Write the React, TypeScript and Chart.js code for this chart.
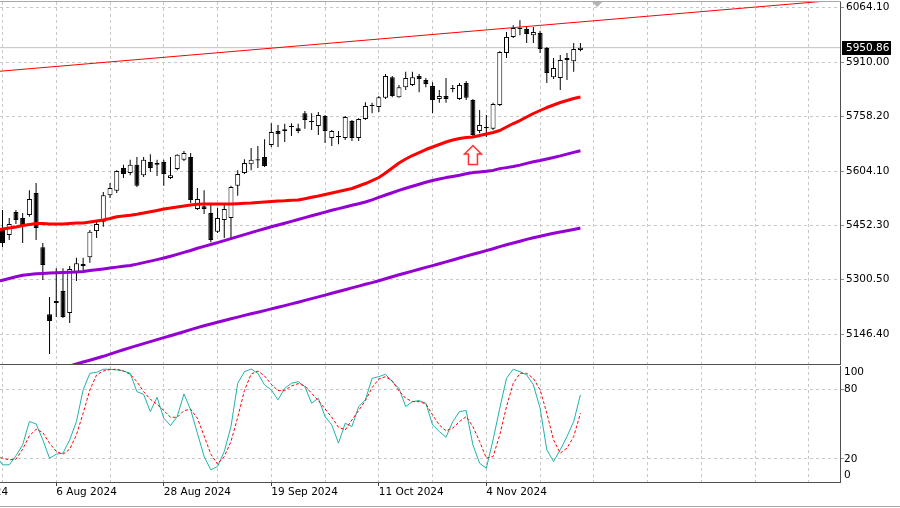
import React, { useEffect, useRef } from 'react';
import { Chart, registerables } from 'chart.js';

Chart.register(...registerables);

// ---- categories (trading days, bar index 0..86) ----
const dates = [
  '2024-07-25','2024-07-26','2024-07-29','2024-07-30','2024-07-31','2024-08-01','2024-08-02','2024-08-05',
  '2024-08-06','2024-08-07','2024-08-08','2024-08-09','2024-08-12','2024-08-13','2024-08-14','2024-08-15',
  '2024-08-16','2024-08-19','2024-08-20','2024-08-21','2024-08-22','2024-08-23','2024-08-26','2024-08-27',
  '2024-08-28','2024-08-29','2024-08-30','2024-09-02','2024-09-03','2024-09-04','2024-09-05','2024-09-06',
  '2024-09-09','2024-09-10','2024-09-11','2024-09-12','2024-09-13','2024-09-16','2024-09-17','2024-09-18',
  '2024-09-19','2024-09-20','2024-09-23','2024-09-24','2024-09-25','2024-09-26','2024-09-27','2024-09-30',
  '2024-10-01','2024-10-02','2024-10-03','2024-10-04','2024-10-07','2024-10-08','2024-10-09','2024-10-10',
  '2024-10-11','2024-10-14','2024-10-15','2024-10-16','2024-10-17','2024-10-18','2024-10-21','2024-10-22',
  '2024-10-23','2024-10-24','2024-10-25','2024-10-28','2024-10-29','2024-10-30','2024-10-31','2024-11-01',
  '2024-11-04','2024-11-05','2024-11-06','2024-11-07','2024-11-08','2024-11-11','2024-11-12','2024-11-13',
  '2024-11-14','2024-11-15','2024-11-18','2024-11-19','2024-11-20','2024-11-21','2024-11-22'
];

// ---- OHLC ----
const open = [5439,5425,5490,5473,5481,5543,5391,5203,5234,5268,5206,5321,5344,5363,5436,5462,5537,5549,5613,5599,5622,5593,5630,5622,5630,5585,5610,5636,5644,5498,5506,5487,5434,5467,5473,5563,5599,5624,5638,5644,5678,5717,5717,5728,5725,5767,5745,5731,5759,5697,5700,5697,5745,5697,5751,5787,5784,5810,5868,5812,5840,5846,5871,5860,5843,5807,5815,5835,5807,5852,5804,5717,5725,5723,5790,5936,5981,6003,6003,5986,5992,5950,5868,5866,5922,5913,5944];
const high = [5495,5473,5495,5487,5551,5571,5403,5251,5332,5332,5338,5361,5361,5439,5467,5546,5571,5607,5622,5636,5644,5644,5652,5636,5636,5644,5652,5661,5655,5557,5551,5515,5501,5509,5563,5607,5638,5669,5675,5694,5739,5734,5737,5739,5737,5773,5767,5770,5762,5720,5717,5759,5748,5753,5798,5796,5815,5877,5871,5846,5883,5883,5877,5866,5854,5832,5866,5846,5852,5857,5807,5776,5762,5796,5941,5995,6014,6028,6009,6009,5998,5953,5922,5930,5936,5964,5964];
const low = [5391,5411,5456,5403,5476,5411,5299,5091,5195,5192,5178,5296,5327,5347,5417,5448,5529,5543,5585,5593,5560,5588,5602,5591,5563,5582,5607,5633,5515,5495,5484,5405,5431,5417,5417,5535,5596,5607,5613,5616,5672,5672,5686,5703,5711,5723,5720,5706,5683,5675,5680,5692,5689,5689,5748,5767,5770,5807,5812,5810,5832,5843,5826,5840,5767,5796,5796,5826,5804,5804,5703,5711,5700,5720,5787,5922,5978,5986,5964,5964,5936,5852,5863,5832,5860,5883,5941];
const close = [5403,5456,5467,5453,5526,5445,5341,5184,5240,5195,5330,5346,5338,5434,5456,5537,5557,5605,5596,5622,5563,5636,5613,5627,5596,5593,5650,5655,5523,5526,5498,5411,5473,5498,5560,5596,5627,5636,5634,5619,5714,5708,5722,5731,5717,5748,5742,5762,5717,5717,5703,5756,5697,5751,5787,5790,5812,5871,5815,5840,5866,5868,5863,5849,5804,5815,5807,5838,5846,5810,5706,5734,5728,5793,5939,5981,6006,6006,5989,5995,5947,5880,5894,5916,5916,5947,5950.86];

// ---- moving averages (red starts at bar -1, upper purple at -1, lower purple at 10) ----
const maRedStart = -1;
const maRed = [5439.1,5441.9,5444.7,5447.5,5451.8,5454.6,5457.4,5457.4,5456.0,5456.0,5456.0,5457.4,5458.8,5458.8,5461.6,5464.4,5467.2,5471.4,5476.5,5478.4,5480.4,5483.2,5486.8,5490.5,5493.9,5498.1,5500.9,5503.7,5506.5,5509.3,5511.3,5512.1,5512.1,5512.1,5512.1,5512.1,5513.0,5514.1,5514.9,5516.3,5517.7,5519.1,5520.5,5521.1,5522.5,5523.3,5527.0,5530.9,5534.5,5538.8,5543.0,5547.2,5551.4,5555.6,5562.6,5569.6,5578.0,5586.5,5599.1,5613.1,5627.2,5638.4,5648.2,5656.6,5665.0,5672.1,5679.1,5686.1,5691.7,5695.9,5698.7,5700.1,5704.4,5708.6,5712.8,5718.4,5728.2,5738.0,5746.4,5756.2,5766.1,5774.5,5782.9,5789.9,5797.0,5802.6,5808.2,5812.4];
const maUpperStart = -1;
const maUpper = [5294.6,5298.0,5303.0,5307.8,5312.0,5314.5,5316.2,5317.3,5318.2,5319.0,5319.6,5320.4,5321.5,5322.7,5325.2,5327.7,5330.0,5332.5,5335.0,5337.3,5339.8,5343.4,5347.6,5351.9,5356.1,5360.5,5365.3,5370.7,5376.3,5381.6,5387.8,5393.1,5398.4,5403.8,5409.4,5415.0,5420.6,5426.2,5431.8,5437.4,5442.8,5448.1,5453.2,5458.2,5463.3,5468.6,5473.9,5479.0,5484.0,5489.3,5494.4,5499.2,5503.7,5508.4,5512.9,5517.7,5523.9,5530.6,5537.4,5543.8,5550.5,5556.2,5561.8,5567.4,5573.0,5578.0,5582.3,5586.2,5589.5,5592.9,5597.1,5600.2,5601.9,5603.9,5606.4,5611.4,5614.2,5617.3,5621.3,5626.0,5630.8,5634.2,5638.4,5642.6,5647.1,5652.1,5656.9,5661.7];
const maLowerStart = 10;
const maLower = [5057.4,5063.1,5068.7,5073.7,5079.1,5084.7,5090.9,5097.0,5103.2,5109.1,5114.7,5120.3,5125.9,5131.5,5137.2,5142.5,5148.1,5153.7,5159.6,5165.2,5170.6,5175.3,5180.1,5185.1,5189.9,5194.7,5199.5,5204.0,5208.5,5213.0,5217.7,5222.5,5227.0,5231.8,5236.5,5241.6,5246.6,5251.4,5256.5,5261.5,5266.6,5271.6,5276.7,5281.7,5286.8,5291.5,5296.9,5302.5,5308.1,5313.4,5318.5,5323.8,5328.8,5334.2,5339.2,5344.3,5349.6,5354.9,5360.5,5365.9,5370.9,5376.0,5381.3,5386.6,5392.5,5397.6,5402.7,5407.7,5412.8,5417.3,5421.4,5425.9,5430.2,5433.8,5437.2,5440.8,5444.7];

// ---- trend line, current price, marker ----
const trendIdx = [-1, 125];
const trendPrice = [5883.7, 6085.6];
const currentPrice = 5950.86;
const arrowIdx = 70;
const arrowPrice = 5649.6;
const shiftMarkerIdx = 88.5;

// ---- stochastic (start at bar -1) ----
const stochStart = -1;
const stochK = [23.4,14.8,14.8,22.6,32.0,52.1,50.1,36.3,20.5,24.0,24.9,36.3,52.1,79.4,93.7,94.6,97.2,97.2,96.6,95.7,93.7,77.9,75.6,60.7,73.1,55.0,48.7,56.4,75.9,62.2,42.1,22.0,10.5,13.4,26.3,47.8,85.1,95.1,97.4,93.7,83.7,79.4,70.8,80.8,85.1,86.5,82.2,67.9,72.2,56.4,49.2,33.5,50.7,47.8,65.0,70.8,89.4,90.8,92.9,86.5,80.8,65.0,69.3,70.2,67.9,49.2,43.5,38.6,52.1,60.7,61.6,32.0,16.2,11.9,36.3,63.6,89.4,97.2,95.1,92.3,83.7,63.6,27.7,17.7,27.7,39.2,52.1,75.1];
const stochD = [22.6,20.5,19.1,19.7,28.3,39.8,45.5,42.6,33.5,26.3,24.0,28.3,40.6,59.3,79.4,92.3,95.7,96.9,97.2,95.7,92.9,86.5,77.9,71.3,67.0,61.6,55.8,55.8,61.6,62.7,55.0,39.8,24.0,15.4,22.0,34.9,55.8,78.8,93.1,95.7,91.4,84.2,78.8,78.8,82.8,84.8,82.8,76.5,70.2,63.0,55.8,47.2,44.9,53.5,61.6,70.2,81.4,88.8,90.8,87.1,78.5,72.2,69.3,69.3,67.3,57.8,49.2,44.1,46.4,52.1,56.4,47.8,34.9,20.5,22.0,40.6,65.0,85.1,93.7,93.7,89.4,79.4,59.3,36.3,24.9,29.2,39.2,59.3];

// ---- ticks ----
const priceTicks = [6064.10, 5910.00, 5758.20, 5604.10, 5452.30, 5300.50, 5146.40];
const stochTicks = [100, 80, 20, 0];
const stochLevels = [80, 20];
const dateTickIdx = [-8, 8, 24, 40, 56, 72];
const dateTickText = ['15 Jul 2024', '6 Aug 2024', '28 Aug 2024', '19 Sep 2024', '11 Oct 2024', '4 Nov 2024'];
const gridStep = 8;

// ---- scale ranges ----
const X_MIN = -0.372;
const X_MAX = 124.628;
const PRICE_MIN = 5063.1;
const PRICE_MAX = 6079.0;

const FONT = 'DejaVu Sans';
const GRID = '#c8c8c8';
const AXIS_W = 60;

const gridIdx: number[] = [];
for (let v = -gridStep; v <= 120; v += gridStep) gridIdx.push(v);

const pts = (start: number, arr: number[]) => arr.map((y, k) => ({ x: start + k, y }));

function makeArrow() {
  const c = document.createElement('canvas');
  c.width = 20;
  c.height = 22;
  const g = c.getContext('2d') as CanvasRenderingContext2D;
  g.strokeStyle = '#ff2a2a';
  g.lineWidth = 1.5;
  g.fillStyle = '#ffffff';
  g.beginPath();
  g.moveTo(10, 1.5);
  g.lineTo(18.5, 10);
  g.lineTo(14.5, 10);
  g.lineTo(14.5, 20.5);
  g.lineTo(5.5, 20.5);
  g.lineTo(5.5, 10);
  g.lineTo(1.5, 10);
  g.closePath();
  g.fill();
  g.stroke();
  return c;
}

const mainDecor = {
  id: 'mainDecor',
  afterDraw(chart: any) {
    const { ctx, chartArea: a, scales } = chart;
    ctx.save();
    ctx.lineWidth = 1;
    ctx.strokeStyle = '#a8a8a8';
    ctx.beginPath();
    ctx.moveTo(0, 1.5);
    ctx.lineTo(a.right + 1, 1.5);
    ctx.stroke();
    ctx.strokeStyle = '#505050';
    ctx.beginPath();
    ctx.moveTo(a.right + 0.5, a.top);
    ctx.lineTo(a.right + 0.5, a.bottom + 1);
    ctx.moveTo(0, a.bottom + 0.5);
    ctx.lineTo(a.right + 1, a.bottom + 0.5);
    ctx.stroke();
    // current price label
    const py = Math.round(scales.y.getPixelForValue(currentPrice));
    ctx.fillStyle = '#000';
    ctx.fillRect(a.right + 2, py - 7, 49, 14);
    ctx.fillStyle = '#fff';
    ctx.font = `10.5px ${FONT}`;
    ctx.textAlign = 'left';
    ctx.textBaseline = 'middle';
    ctx.fillText(currentPrice.toFixed(2), a.right + 6, py);
    // chart shift marker
    const sx = scales.x.getPixelForValue(shiftMarkerIdx);
    ctx.fillStyle = '#b4b4b4';
    ctx.beginPath();
    ctx.moveTo(sx - 5, a.top);
    ctx.lineTo(sx + 5, a.top);
    ctx.lineTo(sx, a.top + 5);
    ctx.closePath();
    ctx.fill();
    ctx.restore();
  },
};

const subDecor = {
  id: 'subDecor',
  afterDraw(chart: any) {
    const { ctx, chartArea: a, width } = chart;
    ctx.save();
    ctx.lineWidth = 1;
    ctx.strokeStyle = '#505050';
    ctx.beginPath();
    ctx.moveTo(a.right + 0.5, a.top);
    ctx.lineTo(a.right + 0.5, a.bottom + 1);
    ctx.moveTo(0, a.bottom + 0.5);
    ctx.lineTo(a.right + 1, a.bottom + 0.5);
    ctx.stroke();
    ctx.strokeStyle = '#a8a8a8';
    ctx.beginPath();
    ctx.moveTo(0, a.bottom + 24.5);
    ctx.lineTo(width, a.bottom + 24.5);
    ctx.stroke();
    ctx.restore();
  },
};

export default function App() {
  const mainRef = useRef<HTMLCanvasElement>(null);
  const subRef = useRef<HTMLCanvasElement>(null);

  useEffect(() => {
    document.body.style.margin = '0';
    const arrow = makeArrow();
    const tickFont = { family: FONT, size: 10.5 };

    const main = new Chart(mainRef.current as HTMLCanvasElement, {
      type: 'line',
      data: {
        datasets: [
          {
            type: 'line', label: 'price', data: [{ x: -2, y: currentPrice }, { x: 130, y: currentPrice }],
            borderColor: '#c0c0c0', borderWidth: 1, pointRadius: 0, order: 20,
          },
          {
            type: 'bar', label: 'wick', data: close.map((_, i) => ({ x: i, y: [low[i], high[i]] })),
            backgroundColor: '#000', borderWidth: 0, barThickness: 1, grouped: false, inflateAmount: 0, order: 12,
          },
          {
            type: 'bar', label: 'body', data: close.map((c, i) => ({ x: i, y: [open[i], c] })),
            backgroundColor: close.map((c, i) => (c >= open[i] ? '#ffffff' : '#000000')),
            borderColor: '#000', borderWidth: 1, borderSkipped: false, barThickness: 5, grouped: false,
            minBarLength: 1, inflateAmount: 0, order: 11,
          },
          {
            type: 'line', label: 'MA lower', data: pts(maLowerStart, maLower),
            borderColor: '#9400d3', borderWidth: 3, pointRadius: 0, borderJoinStyle: 'round', order: 5,
          },
          {
            type: 'line', label: 'MA upper', data: pts(maUpperStart, maUpper),
            borderColor: '#9400d3', borderWidth: 3, pointRadius: 0, borderJoinStyle: 'round', order: 4,
          },
          {
            type: 'line', label: 'MA red', data: pts(maRedStart, maRed),
            borderColor: '#ff0000', borderWidth: 3, pointRadius: 0, borderJoinStyle: 'round', order: 3,
          },
          {
            type: 'line', label: 'trend', data: trendIdx.map((x, k) => ({ x, y: trendPrice[k] })),
            borderColor: '#ff0000', borderWidth: 1, pointRadius: 0, order: 2,
          },
          {
            type: 'line', label: 'arrow', data: [{ x: arrowIdx, y: arrowPrice }], showLine: false,
            pointStyle: arrow as any, pointRadius: 10, order: 1,
          },
        ] as any,
      },
      options: {
        responsive: false,
        animation: false,
        devicePixelRatio: 1,
        events: [],
        layout: { padding: { top: 2, bottom: 1, left: 0, right: 0 }, autoPadding: false },
        plugins: { legend: { display: false }, tooltip: { enabled: false } },
        scales: {
          x: {
            type: 'linear', min: X_MIN, max: X_MAX, offset: false,
            grid: { color: GRID, drawTicks: false, offset: false },
            border: { display: false, dash: [3, 3] },
            ticks: { display: false },
            afterBuildTicks: (s: any) => { s.ticks = gridIdx.map((v) => ({ value: v })); },
            afterFit: (s: any) => { s.height = 0; s.paddingLeft = 0; s.paddingRight = 0; },
          },
          y: {
            type: 'linear', position: 'right', min: PRICE_MIN, max: PRICE_MAX,
            grid: { color: GRID, drawTicks: true, tickLength: 4, tickColor: '#909090', tickBorderDash: [] },
            border: { display: false, dash: [3, 3] },
            ticks: { padding: 2, color: '#000', font: tickFont, callback: (v: any) => Number(v).toFixed(2) },
            afterBuildTicks: (s: any) => { s.ticks = priceTicks.map((v) => ({ value: v })); },
            afterFit: (s: any) => { s.width = AXIS_W; s.paddingTop = 0; s.paddingBottom = 0; },
          },
        } as any,
      },
      plugins: [mainDecor],
    } as any);

    const sub = new Chart(subRef.current as HTMLCanvasElement, {
      type: 'line',
      data: {
        datasets: [
          {
            label: '%K', data: pts(stochStart, stochK), borderColor: '#20b2aa', borderWidth: 1, pointRadius: 0, order: 2,
          },
          {
            label: '%D', data: pts(stochStart, stochD), borderColor: '#ff0000', borderWidth: 1, borderDash: [3, 2],
            pointRadius: 0, order: 1,
          },
        ],
      },
      options: {
        responsive: false,
        animation: false,
        devicePixelRatio: 1,
        events: [],
        layout: { padding: { top: 1, bottom: 0, left: 0, right: 0 }, autoPadding: false },
        plugins: { legend: { display: false }, tooltip: { enabled: false } },
        scales: {
          x: {
            type: 'linear', min: X_MIN, max: X_MAX, offset: false,
            grid: {
              color: GRID, drawTicks: true, tickLength: 4, offset: false, tickBorderDash: [],
              tickColor: (c: any) => (c.tick && dateTickIdx.indexOf(c.tick.value) >= 0 ? '#404040' : 'rgba(0,0,0,0)'),
            },
            border: { display: false, dash: [3, 3] },
            ticks: {
              autoSkip: false, maxRotation: 0, minRotation: 0, align: 'start', padding: 0, color: '#000', font: tickFont,
              callback: (v: any) => { const k = dateTickIdx.indexOf(Number(v)); return k >= 0 ? dateTickText[k] : ''; },
            },
            afterBuildTicks: (s: any) => { s.ticks = gridIdx.map((v) => ({ value: v })); },
            afterFit: (s: any) => { s.height = 26; s.paddingLeft = 0; s.paddingRight = 0; },
          },
          y: {
            type: 'linear', position: 'right', min: 0, max: 100,
            grid: {
              drawTicks: true, tickLength: 4, tickBorderDash: [],
              color: (c: any) => (c.tick && stochLevels.indexOf(c.tick.value) >= 0 ? GRID : 'rgba(0,0,0,0)'),
              tickColor: (c: any) => (c.tick && stochLevels.indexOf(c.tick.value) >= 0 ? '#909090' : 'rgba(0,0,0,0)'),
            },
            border: { display: false, dash: [3, 3] },
            ticks: {
              padding: 0, color: '#000', font: tickFont,
              callback: (v: any) => (v === 100 ? ['', '100'] : v === 0 ? ['0', ''] : String(v)),
            },
            afterBuildTicks: (s: any) => { s.ticks = stochTicks.map((v) => ({ value: v })); },
            afterFit: (s: any) => { s.width = AXIS_W; s.paddingTop = 0; s.paddingBottom = 0; },
          },
        } as any,
      },
      plugins: [subDecor],
    } as any);

    return () => { main.destroy(); sub.destroy(); };
  }, []);

  return (
    <div style={{ position: 'absolute', left: 0, top: 0, width: 900, height: 508, background: '#fff' }} data-days={dates.length}>
      <canvas ref={mainRef} width={900} height={365} style={{ display: 'block', width: 900, height: 365 }} />
      <canvas ref={subRef} width={900} height={143} style={{ display: 'block', width: 900, height: 143 }} />
    </div>
  );
}
